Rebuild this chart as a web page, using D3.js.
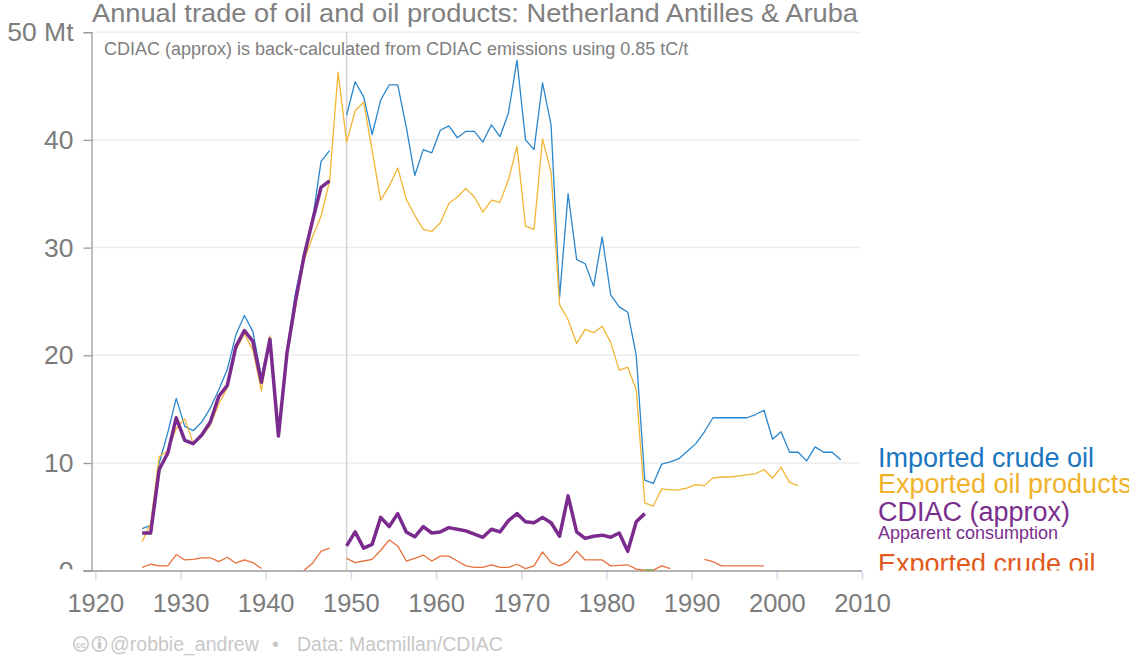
<!DOCTYPE html>
<html>
<head>
<meta charset="utf-8">
<style>
  body { margin: 0; background: #fff; }
  svg { font-family: "Liberation Sans", Arial, Helvetica, sans-serif; }
</style>
</head>
<body>
<svg width="1129" height="657"></svg>
<script src="https://d3js.org/d3.v7.min.js"></script>
<script>

// Netherland Antilles & Aruba, Mt per year, 1925-2007 (null = no data)
var years = d3.range(1925, 2008);

var importedCrude = [
  3.9, 4.2, 10.0, 12.8, 16.0, 13.4, 13.0, 13.8, 15.1, 16.8,
  18.7, 21.9, 23.7, 22.2, 18.0, 21.6, 12.5, 20.5, 25.8, 29.5,
  32.6, 38.0, 39.0, null, 42.3, 45.4, 44.0, 40.5, 43.7, 45.1,
  45.1, 41.2, 36.7, 39.1, 38.8, 40.9, 41.3, 40.2, 40.8, 40.8,
  39.8, 41.4, 40.3, 42.5, 47.4, 40.0, 39.1, 45.3, 41.4, 25.4,
  35.0, 28.9, 28.5, 26.4, 31.0, 25.6, 24.5, 24.0, 20.0, 8.4,
  8.1, 9.9, 10.1, 10.4, 11.1, 11.8, 12.9, 14.2, 14.2, 14.2,
  14.2, 14.2, 14.5, 14.9, 12.2, 12.9, 11.0, 11.0, 10.2, 11.5,
  11.0, 11.0, 10.3
];

var exportedProducts = [
  2.7, 4.4, 10.6, 11.1, 13.2, 14.1, 11.8, 12.5, 13.5, 15.5,
  17.0, 20.5, 22.0, 20.5, 16.7, 21.8, 12.6, 20.0, 24.5, 28.8,
  31.0, 32.9, 36.2, 46.3, 39.8, 42.7, 43.5, 39.0, 34.4, 35.7,
  37.4, 34.5, 33.0, 31.7, 31.5, 32.3, 34.1, 34.7, 35.5, 34.7,
  33.3, 34.4, 34.2, 36.3, 39.4, 32.0, 31.7, 40.1, 37.0, 24.7,
  23.3, 21.1, 22.4, 22.1, 22.7, 21.2, 18.6, 18.9, 16.8, 6.3,
  6.0, 7.6, 7.5, 7.5, 7.7, 8.0, 7.9, 8.6, 8.7, 8.7,
  8.8, 8.9, 9.0, 9.4, 8.6, 9.6, 8.2, 7.9, null, null,
  null, null, null
];

var cdiacApprox = [
  3.5, 3.5, 9.4, 10.9, 14.2, 12.1, 11.8, 12.6, 13.8, 16.2,
  17.2, 20.8, 22.3, 21.3, 17.5, 21.5, 12.5, 20.2, 25.0, 29.2,
  32.5, 35.6, 36.2, null, 2.3, 3.6, 2.1, 2.45, 4.95, 4.1,
  5.3, 3.6, 3.15, 4.1, 3.5, 3.6, 4.0, 3.85, 3.7, 3.4,
  3.1, 3.85, 3.6, 4.65, 5.3, 4.55, 4.45, 4.95, 4.45, 3.2,
  6.95, 3.6, 3.0, 3.2, 3.3, 3.1, 3.5, 1.8, 4.55, 5.3
];

var exportedCrude = [
  0.3, 0.6, 0.45, 0.45, 1.5, 1.0, 1.05, 1.2, 1.2, 0.85,
  1.25, 0.7, 1.0, 0.75, 0.2, null, null, null, null, 0.05,
  0.7, 1.8, 2.1, null, 1.15, 0.75, 0.9, 1.05, 1.9, 2.85,
  2.3, 0.9, 1.15, 1.45, 0.9, 1.35, 1.35, 0.9, 0.45, 0.3,
  0.3, 0.55, 0.3, 0.3, 0.6, 0.2, 0.45, 1.75, 0.75, 0.45,
  0.85, 1.8, 1.0, 1.0, 1.0, 0.45, 0.5, 0.55, 0.15, 0.05,
  0.05, 0.45, 0.2, null, null, null, 1.05, 0.85, 0.45, 0.45,
  0.45, 0.45, 0.45, 0.45
];

// tiny green series near zero, its label is cut off in the original
var otherYears = [1984, 1985];
var otherValues = [0.07, 0.07];

var yTicks = [0, 10, 20, 30, 40, 50];
var xTicks = [1920, 1930, 1940, 1950, 1960, 1970, 1980, 1990, 2000, 2010];

var svg = d3.select("svg");

var x = d3.scaleLinear().domain([1920, 2010]).range([95.3, 862]);
var y = d3.scaleLinear().domain([0, 50]).range([570.7, 32.2]);
var axisX = 91.5;
var grey = "#7c7c7c";

// clip for labels that run past the bottom of the plot
svg.append("clipPath").attr("id", "plotclip")
  .append("rect").attr("x", 0).attr("y", 0).attr("width", 1129).attr("height", 570.5);
// same idea, in the local space of an axis tick
svg.append("clipPath").attr("id", "tickclip")
  .append("rect").attr("x", -100).attr("y", -40).attr("width", 100).attr("height", 38);

// gridlines
svg.append("g").selectAll("line")
  .data(yTicks.filter(function(d) { return d > 0; }))
  .enter().append("line")
    .attr("x1", axisX).attr("x2", 860)
    .attr("y1", function(d) { return y(d); })
    .attr("y2", function(d) { return y(d); })
    .attr("stroke", "#ededed").attr("stroke-width", 1.5);

// break line between the two data sources
svg.append("line")
  .attr("x1", x(1949.5)).attr("x2", x(1949.5))
  .attr("y1", y(50)).attr("y2", y(0))
  .attr("stroke", "#d2d2d2").attr("stroke-width", 1.5);

// y axis
var yAxis = svg.append("g")
  .attr("transform", "translate(" + axisX + ",0)")
  .call(d3.axisLeft(y).tickValues(yTicks).tickSize(8).tickPadding(10)
    .tickFormat(function(d) { return d === 50 ? "50 Mt" : d; }));
yAxis.select(".domain").attr("stroke", "#9a9a9a").attr("stroke-width", 1.3);
yAxis.selectAll(".tick line").attr("stroke", "#9a9a9a").attr("stroke-width", 1.3);
yAxis.selectAll(".tick text")
  .attr("fill", grey).attr("font-size", 26.5)
  .attr("font-family", "\"Liberation Sans\", Arial, sans-serif");
yAxis.selectAll(".tick").filter(function(d) { return d === 0; })
  .select("text").attr("clip-path", "url(#tickclip)");

// x axis
var xAxis = svg.append("g")
  .attr("transform", "translate(0,571.5)")
  .call(d3.axisBottom(x).tickValues(xTicks).tickSize(8).tickPadding(14)
    .tickFormat(d3.format("d")));
xAxis.select(".domain").remove();
xAxis.selectAll(".tick line").attr("stroke", "#ddd6f2").attr("stroke-width", 1.5);
xAxis.selectAll(".tick text")
  .attr("fill", grey).attr("font-size", 25.5)
  .attr("font-family", "\"Liberation Sans\", Arial, sans-serif");

svg.append("line")
  .attr("x1", axisX - 8).attr("x2", x(2010))
  .attr("y1", 571).attr("y2", 571)
  .attr("stroke", "#9a9a9a").attr("stroke-width", 1.3);

// series
var line = d3.line()
  .defined(function(d) { return d[1] != null; })
  .x(function(d) { return x(d[0] + 0.5); })
  .y(function(d) { return y(d[1]); });

function pairs(vals) {
  return vals.map(function(v, i) { return [years[i], v]; });
}

var series = [
  { values: pairs(exportedCrude), color: "#e8703c", width: 1.3 },
  { values: otherYears.map(function(yr, i) { return [yr, otherValues[i]]; }), color: "#5cbf5c", width: 1.3 },
  { values: pairs(importedCrude), color: "#2a86cc", width: 1.3 },
  { values: pairs(exportedProducts), color: "#f2b534", width: 1.3 },
  { values: pairs(cdiacApprox), color: "#7a2b8d", width: 3.5 }
];

svg.append("g").selectAll("path")
  .data(series)
  .enter().append("path")
    .attr("d", function(d) { return line(d.values); })
    .attr("fill", "none")
    .attr("stroke", function(d) { return d.color; })
    .attr("stroke-width", function(d) { return d.width; })
    .attr("stroke-linejoin", "round");

// titles
svg.append("text")
  .attr("x", 92).attr("y", 21.5)
  .attr("font-size", 26.5).attr("fill", "#808080")
  .attr("textLength", 766).attr("lengthAdjust", "spacingAndGlyphs")
  .text("Annual trade of oil and oil products: Netherland Antilles & Aruba");

svg.append("text")
  .attr("x", 104).attr("y", 55)
  .attr("font-size", 18).attr("fill", "#808080")
  .text("CDIAC (approx) is back-calculated from CDIAC emissions using 0.85 tC/t");

// end labels
var labels = [
  { text: "Imported crude oil", y: 467, size: 27, color: "#1a76bf" },
  { text: "Exported oil products", y: 492.5, size: 27, color: "#f0b22a" },
  { text: "CDIAC (approx)", y: 520.5, size: 27, color: "#7a2e8e" },
  { text: "Apparent consumption", y: 538.5, size: 18, color: "#7a2e8e" },
  { text: "Exported crude oil", y: 573, size: 27, color: "#e05a20", clip: true }
];

svg.append("g").selectAll("text")
  .data(labels)
  .enter().append("text")
    .attr("x", 878)
    .attr("y", function(d) { return d.y; })
    .attr("font-size", function(d) { return d.size; })
    .attr("fill", function(d) { return d.color; })
    .attr("clip-path", function(d) { return d.clip ? "url(#plotclip)" : null; })
    .text(function(d) { return d.text; });

// footer
var foot = svg.append("g").attr("fill", "#c8c8c8").attr("font-size", 19.5);
foot.append("circle").attr("cx", 81).attr("cy", 644).attr("r", 7.2)
  .attr("fill", "none").attr("stroke", "#c8c8c8").attr("stroke-width", 1.6);
foot.append("text").attr("x", 81).attr("y", 647.5).attr("text-anchor", "middle")
  .attr("font-size", 9).attr("font-weight", "bold").text("cc");
foot.append("circle").attr("cx", 99.5).attr("cy", 644).attr("r", 7.2)
  .attr("fill", "none").attr("stroke", "#c8c8c8").attr("stroke-width", 1.6);
foot.append("circle").attr("cx", 99.5).attr("cy", 639.8).attr("r", 1.5);
foot.append("rect").attr("x", 97.8).attr("y", 642).attr("width", 3.4).attr("height", 6.5);
foot.append("text").attr("x", 110).attr("y", 650.5).text("@robbie_andrew");
foot.append("text").attr("x", 272).attr("y", 650.5).text("\u2022");
foot.append("text").attr("x", 297).attr("y", 650.5).text("Data: Macmillan/CDIAC");

</script>
</body>
</html>
